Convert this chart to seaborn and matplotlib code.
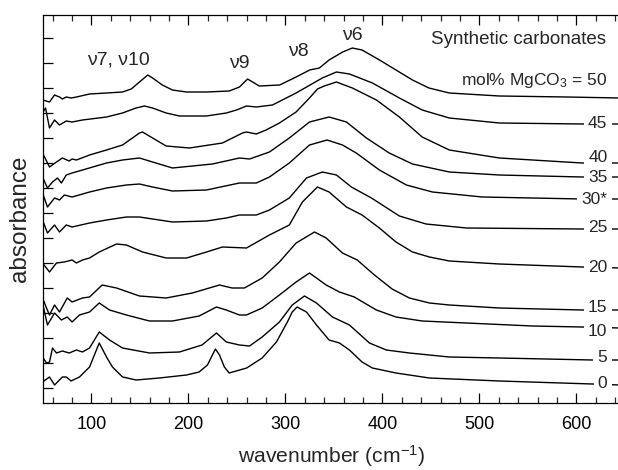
import matplotlib
matplotlib.use("Agg")
import matplotlib.pyplot as plt
import pandas as pd
import seaborn as sns
from matplotlib.ticker import MultipleLocator

# ---------------- data ----------------
samples = ["0", "5", "10", "15", "20", "25", "30*", "35", "40", "45", "50"]

wn_0 = [49.5, 56.7, 61.9, 70, 74, 79, 87.6, 98, 103, 108, 115.5, 121.6, 132, 146, 170, 198, 211, 219.6, 227.8, 232,
        237, 242, 260, 276, 290.7, 302, 307, 312, 321.7, 332, 345, 355.7, 366, 379, 389.7, 414, 448.5, 520.6, 616.5, 645]
abs_0 = [6, 11, 3, 11, 11, 7, 11, 21, 33, 45, 31, 21, 11, 8, 10, 13, 16, 23, 39, 33,
         21, 15, 20, 30, 46, 66, 76, 81, 76, 63, 48, 45, 38, 26, 20, 15, 10, 7, 4, 3]

wn_5 = [49.5, 53.6, 56.7, 59.8, 63.9, 70, 77, 84.5, 90.7, 98, 108, 118.6, 132, 159.8, 190.7, 214, 228.9, 239,
        252.6, 263, 276, 293.8, 307, 319.6, 332, 348.5, 366, 386.6, 404, 427.8, 469, 520.6, 616.5, 645]
abs_5 = [31, 25, 26, 40, 35, 37, 35, 38, 36, 40, 56, 48, 40, 35, 36, 43, 55, 46,
         43, 42, 51, 66, 83, 92, 85, 71, 63, 45, 38, 35, 31, 30, 28, 28]

wn_10 = [49.5, 54.6, 61.9, 69, 75, 80, 87.6, 98, 108, 118.6, 136, 159.8, 183.5, 211, 228.9, 239, 252.6, 259.8,
         276, 293.8, 311, 324.8, 342, 355.7, 371, 393.8, 414, 441, 486.6, 554.7, 606, 645]
abs_10 = [85, 63, 75, 68, 71, 66, 73, 76, 85, 78, 73, 67, 67, 72, 81, 78, 73, 73,
          80, 93, 106, 115, 103, 96, 91, 78, 71, 67, 65, 62, 61, 60]

wn_15 = [49.5, 53.6, 56.7, 61.9, 67, 75, 80, 90.7, 98, 111, 125.8, 149.5, 177, 204, 232, 245, 257.7, 276,
         293.8, 311, 330, 342, 358.8, 374, 391.8, 410, 427.8, 448.5, 469, 520.6, 606, 645]
abs_15 = [90, 80, 73, 83, 76, 90, 86, 90, 91, 103, 100, 92, 90, 95, 103, 100, 100, 110,
          126, 145, 156, 150, 135, 128, 113, 99, 90, 85, 83, 80, 78, 78]

wn_20 = [49.5, 56.7, 63.9, 72, 80, 84.5, 90.7, 98, 108, 125.8, 136, 152.6, 177, 198, 218.6, 235, 259.8, 283.5,
         304, 317.5, 333, 345, 362.9, 379, 396.9, 414, 431, 448.5, 469, 520.6, 606, 645]
abs_20 = [125, 116, 125, 126, 128, 125, 128, 130, 136, 144, 143, 136, 130, 130, 136, 141, 140, 153,
          163, 186, 201, 196, 181, 173, 160, 146, 136, 131, 127, 124, 121, 120]

wn_25 = [49.5, 54.6, 61.9, 67, 74, 80, 98, 115.5, 136, 149.5, 163, 183.5, 218.6, 239, 252.6, 270, 283.5, 304,
         321.7, 338, 352.6, 368, 388.7, 417.5, 445, 486.6, 606, 645]
abs_25 = [168, 155, 163, 156, 163, 161, 165, 168, 171, 171, 169, 166, 167, 170, 173, 173, 178, 190,
          210, 216, 213, 201, 190, 172, 164, 160, 159, 159]

wn_30 = [49.5, 54.6, 61.9, 67, 72, 80, 98, 115.5, 136, 149.5, 163, 183.5, 218.6, 252.6, 270, 283.5, 304, 324.8,
         343, 358.8, 373, 396.9, 424.7, 451.6, 503, 606, 645]
abs_30 = [195, 181, 190, 188, 193, 191, 196, 200, 203, 204, 201, 197, 198, 205, 205, 211, 225, 243,
          248, 243, 235, 218, 203, 196, 191, 189, 189]

wn_35 = [49.5, 54.6, 59.8, 64.9, 69, 74, 80, 90.7, 115.5, 132, 149.5, 163, 183.5, 224.7, 252.6, 263, 283.5, 304,
         324.8, 345, 362.9, 383.5, 407, 431, 469, 520.6, 606, 645]
abs_35 = [211, 200, 206, 210, 205, 213, 215, 218, 225, 228, 230, 226, 220, 224, 230, 229, 236, 250,
          266, 271, 266, 250, 235, 224, 216, 213, 211, 211]

wn_40 = [49.5, 56.7, 63.9, 70, 77, 80, 84.5, 98, 115.5, 132, 149.5, 152.6, 163, 177, 201, 235, 255.7, 259.8,
         270, 280, 293.8, 311, 324.8, 333, 340, 352.6, 369, 393.8, 417.5, 441, 469, 520.6, 606, 645]
abs_40 = [235, 221, 226, 230, 227, 229, 228, 233, 238, 243, 255, 256, 250, 242, 240, 245, 255, 256,
          254, 258, 265, 276, 290, 299, 302, 306, 300, 288, 271, 251, 238, 230, 225, 225]

wn_45 = [49.5, 52.6, 56.7, 61.9, 67, 74, 80, 90.7, 115.5, 132, 146, 154.6, 163, 177, 190.7, 218.6, 239, 249.5,
         259.8, 270, 286.6, 311, 338, 352.6, 366, 389.7, 417.5, 441, 469, 520.6, 606, 645]
abs_45 = [275, 280, 260, 268, 263, 267, 266, 268, 271, 275, 280, 282, 280, 275, 272, 272, 275, 278,
          282, 281, 283, 295, 310, 316, 314, 305, 290, 278, 270, 265, 264, 264]

wn_50 = [49.5, 56.7, 61.9, 67, 70, 74, 79, 84.5, 98, 115.5, 132, 141, 149.5, 158, 163, 173, 183.5, 198, 218.5,
         242, 252.6, 261, 273, 294, 311, 325, 335, 345, 359, 369, 379, 397, 414, 431, 448, 469, 520.6, 590, 645]
abs_50 = [288, 286, 293, 291, 289, 291, 290, 291, 294, 295, 296, 299, 306, 313, 310, 303, 298, 296, 296,
          297, 301, 309, 302, 303, 311, 318, 320, 328, 336, 340, 338, 328, 318, 308, 300, 295, 292, 291, 290]

wn_lists = [wn_0, wn_5, wn_10, wn_15, wn_20, wn_25, wn_30, wn_35, wn_40, wn_45, wn_50]
abs_lists = [abs_0, abs_5, abs_10, abs_15, abs_20, abs_25, abs_30, abs_35, abs_40, abs_45, abs_50]

# label vertical positions (same units as the offset spectra)
label_names = ["0", "5", "10", "15", "20", "25", "30*", "35", "40", "45"]
label_y = [4, 30, 56, 81, 120, 160, 188, 211, 231, 265]

band_labels = ["\u03bd7, \u03bd10", "\u03bd9", "\u03bd8", "\u03bd6"]
band_x = [128, 252, 313, 369]
band_y = [328, 325, 337, 352]

# ---------------- build long table ----------------
rows = []
for s, w, a in zip(samples, wn_lists, abs_lists):
    for xi, yi in zip(w, a):
        rows.append({"wavenumber": xi, "absorbance": yi, "sample": s})
df = pd.DataFrame(rows)

# ---------------- style ----------------
sns.set_style("ticks")
plt.rcParams["font.family"] = ["Liberation Sans", "DejaVu Sans"]
plt.rcParams["mathtext.fontset"] = "custom"
plt.rcParams["mathtext.rm"] = "Liberation Sans"
plt.rcParams["mathtext.it"] = "Liberation Sans:italic"

fig = plt.figure(figsize=(6.18, 4.70), dpi=100)
ax = fig.add_axes([43 / 618, 67 / 470, 577 / 618, 388 / 470])

sns.lineplot(data=df, x="wavenumber", y="absorbance", hue="sample", units="sample",
             estimator=None, sort=False, palette=["black"] * len(samples),
             legend=False, linewidth=1.0, ax=ax)
for ln in ax.get_lines():
    ln.set_solid_joinstyle("round")

ax.set_xlim(50, 645)
ax.set_ylim(-15, 373)

ax.xaxis.set_major_locator(MultipleLocator(100))
ax.xaxis.set_minor_locator(MultipleLocator(20))
ax.yaxis.set_major_locator(MultipleLocator(25))
ax.tick_params(axis="both", which="major", direction="in", length=7, width=0.9,
               top=True, right=False, labelsize=13, pad=9.5, colors="black")
ax.tick_params(axis="x", which="minor", direction="in", length=4, width=0.9, top=True)
ax.tick_params(axis="y", labelleft=False)
ax.set_xticks([100, 200, 300, 400, 500, 600])

for sp in ax.spines.values():
    sp.set_linewidth(0.9)
    sp.set_color("black")
ax.spines["right"].set_visible(False)

ax.set_xlabel("wavenumber (cm$^{-1}$)", fontsize=15.2, labelpad=7)
ax.set_ylabel("absorbance", fontsize=17.5)
ax.yaxis.set_label_coords(-0.02, 0.474)

# sample labels on the right, with white boxes over the traces
for name, yv in zip(label_names, label_y):
    ax.text(632, yv, name, ha="right", va="center", fontsize=12.5, zorder=5,
            bbox=dict(facecolor="white", edgecolor="none", pad=3))
ax.text(632, 307, "mol% MgCO$_3$ = 50", ha="right", va="center", fontsize=12.5, zorder=5)
ax.text(631, 349, "Synthetic carbonates", ha="right", va="center", fontsize=13.5, zorder=5)

for t, xb, yb in zip(band_labels, band_x, band_y):
    ax.text(xb, yb, t, ha="center", va="center", fontsize=14, zorder=5)

fig.savefig("out.png", dpi=100)
